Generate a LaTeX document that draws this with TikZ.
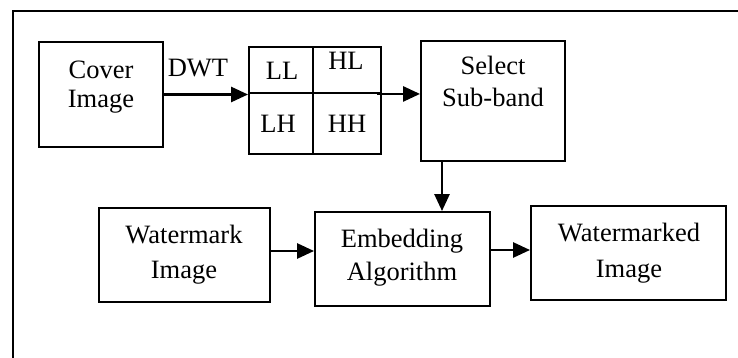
\documentclass[tikz,border=0pt]{standalone}
\usepackage{fontspec}
\setmainfont{Liberation Serif}
\usetikzlibrary{arrows.meta}
\tikzset{
  blk/.style={draw, line width=1.9pt, inner sep=0pt, minimum width=#1},
  cell/.style={draw, line width=1.9pt, inner sep=0pt},
  txt/.style={anchor=base, inner sep=0pt, font=\fontsize{26.5}{30}\selectfont},
  flow/.style={line width=2.7pt, -{Triangle[length=17pt,width=15pt]}},
}
\begin{document}
\begin{tikzpicture}[x=1pt, y=-1pt]
\useasboundingbox (0,0) rectangle (738,358);
% outer frame (only its left and top sides fall on the page)
\draw[line width=2pt] (13,358) -- (13,11) -- (738,11);

% blocks
\node[blk=124pt, minimum height=105pt] (cover) at (101,94.5) {};
\node[blk=144pt, minimum height=120pt] (select) at (493,101) {};
\node[blk=171pt, minimum height=94pt] (wm) at (184.5,255) {};
\node[blk=175pt, minimum height=94pt] (emb) at (402.5,259) {};
\node[blk=195pt, minimum height=94pt] (out) at (628.5,253) {};

% DWT sub-band grid
\node[cell, minimum width=64pt, minimum height=46pt] (LL) at (281,70) {};
\node[cell, minimum width=68pt, minimum height=46pt] (HL) at (347,70) {};
\node[cell, minimum width=64pt, minimum height=61pt] (LH) at (281,123.5) {};
\node[cell, minimum width=68pt, minimum height=61pt] (HH) at (347,123.5) {};

% texts
\node[txt] (t1) at (101,79) {Cover};
\node[txt] (t2) at (101,108) {Image};
\node[txt] (tdwt) at (198,77) {DWT};
\node[txt] (tll) at (282,80) {LL};
\node[txt] (thl) at (346,70) {HL};
\node[txt] (tlh) at (278,133) {LH};
\node[txt] (thh) at (347,133) {HH};
\node[txt] (t3) at (493,75) {Select};
\node[txt] (t4) at (493,107) {Sub-band};
\node[txt] (t5) at (184,243) {Watermark};
\node[txt] (t6) at (184,278) {Image};
\node[txt] (t7) at (402,247) {Embedding};
\node[txt] (t8) at (402,280) {Algorithm};
\node[txt] (t9) at (629,241) {Watermarked};
\node[txt] (t10) at (629,277) {Image};

% connectors
\draw[flow] (cover.east) -- (cover.east -| LL.west);
\draw[flow] ([xshift=-5pt]HL.south east) -- (HL.south east -| select.west);
\draw[flow] ([xshift=-51pt]select.south) -- ([xshift=-51pt]select.south |- emb.north);
\draw[flow] ([yshift=4pt]wm.east) -- ([yshift=4pt]wm.east -| emb.west);
\draw[flow] ([yshift=9pt]emb.east) -- ([yshift=9pt]emb.east -| out.west);
\end{tikzpicture}
\end{document}
